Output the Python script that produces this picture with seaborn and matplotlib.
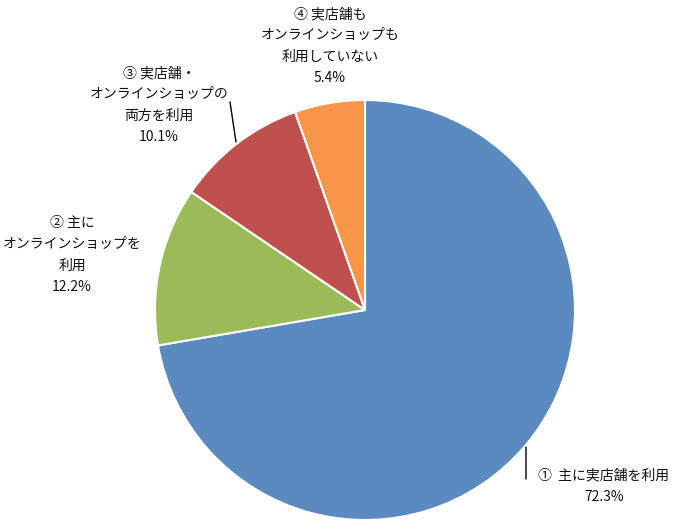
import matplotlib
matplotlib.use("Agg")
import matplotlib.pyplot as plt
import seaborn as sns

categories = ["①  主に実店舗を利用",
              "② 主に\nオンラインショップを\n利用",
              "③ 実店舗・\nオンラインショップの\n両方を利用",
              "④ 実店舗も\nオンラインショップも\n利用していない"]
values = [72.3, 12.2, 10.1, 5.4]
colors = ["#5A8AC0", "#9BBB59", "#C0504D", "#F79646"]

sns.set_theme(style="white")
plt.rcParams['font.family'] = ['Noto Sans CJK JP', 'DejaVu Sans']

fig = plt.figure(figsize=(6.9, 5.3), dpi=100)
ax = fig.add_axes([0, 0, 1, 1])

ax.pie(values, colors=colors, startangle=90, counterclock=False,
       center=(365, 220), radius=210,
       wedgeprops=dict(edgecolor="white", linewidth=1.5))
ax.set_xlim(0, 690)
ax.set_ylim(0, 530)
ax.set_aspect("equal")
ax.axis("off")

# label layout (pixel coords, y up)
label_pos = [(604, 44), (72, 275), (159, 425), (330, 484)]
for cat, v, (x, y) in zip(categories, values, label_pos):
    ax.text(x, y, f"{cat}\n{v}%", ha="center", va="center", ma="center",
            fontsize=10.0, color="#111111", linespacing=1.66)

# leader lines
lp = dict(arrowstyle="-", color="black", lw=1.0, shrinkA=0, shrinkB=0)
ax.annotate("", xy=(526, 83), xytext=(526, 51), arrowprops=lp)
ax.annotate("", xy=(236, 388), xytext=(230, 428), arrowprops=lp)

fig.savefig("out.png", dpi=100)
